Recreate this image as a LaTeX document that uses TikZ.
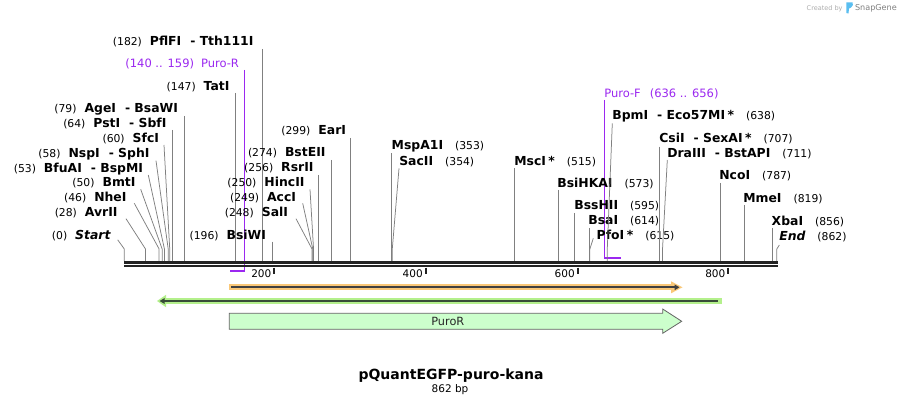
\documentclass[tikz,border=0pt]{standalone}
\usepackage{fontspec}
\setmainfont{DejaVu Sans}
\usetikzlibrary{arrows.meta}
\definecolor{leadgray}{RGB}{128,128,128}
\definecolor{primerpurple}{RGB}{155,40,240}
\definecolor{axisblack}{RGB}{34,34,34}
\definecolor{orangehalo}{RGB}{250,200,120}
\definecolor{greenhalo}{RGB}{180,240,140}
\definecolor{featdark}{RGB}{64,64,64}
\definecolor{greendark}{RGB}{56,76,56}
\definecolor{purofill}{RGB}{204,255,204}
\definecolor{puroborder}{RGB}{100,100,100}
\definecolor{sgblue}{RGB}{90,190,240}
\newcommand\enz[1]{{\fontsize{12.4}{14}\selectfont\bfseries #1}}
\newcommand\bpn[1]{{\fontsize{10.8}{13}\selectfont (#1)}}
\newcommand\gapl{\hspace{8pt}}
\newcommand\gapr{\hspace{12pt}}
\newcommand\sitex[1]{124.3+0.757*#1}
\newcommand\leadv[3]{%
  \coordinate (#1-s) at ({\sitex{#2}},#3);
  \coordinate (#1-a) at ({\sitex{#2}},261);
  \draw[leader] (#1-s) -- (#1-a);}
\newcommand\leadd[4]{%
  \coordinate (#1-s) at (#2,#3);
  \coordinate (#1-k) at ({\sitex{#4}},249);
  \coordinate (#1-a) at ({\sitex{#4}},261);
  \draw[leader] (#1-s) -- (#1-k) -- (#1-a);}
\tikzset{
  lbl/.style={inner sep=0pt, outer sep=0pt},
  rlab/.style={lbl, anchor=base east},
  llab/.style={lbl, anchor=base west},
  leader/.style={draw=leadgray, line width=0.75pt},
  primer/.style={draw=primerpurple, line width=1.6pt},
  ticklab/.style={lbl, anchor=base east, font=\fontsize{10.5}{12}\selectfont},
}
\begin{document}
\begin{tikzpicture}[x=1pt,y=-1pt]
\useasboundingbox (0,0) rectangle (902,406);
\fill[white] (0,0) rectangle (902,406);

% ---- primers (drawn under axis)
\node[lbl, anchor=base east, text=primerpurple, font=\fontsize{11.5}{13}\selectfont] (purorlab) at (239,67.7) {(140 .. 159)\hspace{7pt}Puro-R};
\coordinate (pr-top) at (244.3,70);
\coordinate (pr-bot) at (244.3,270.7);
\coordinate (pr-end) at (230,270.7);
\draw[primer] (pr-top) -- (pr-bot) -- (pr-end);

\node[lbl, anchor=base west, text=primerpurple, font=\fontsize{11.5}{13}\selectfont] (puroflab) at (604.3,97.3) {Puro-F\hspace{9pt}(636 .. 656)};
\coordinate (pf-top) at (604.3,100);
\coordinate (pf-bot) at (604.3,257.7);
\coordinate (pf-end) at (620.5,257.7);
\draw[primer] (pf-top) -- (pf-bot) -- (pf-end);

% ---- right-aligned labels (left part)
\node[rlab] (pflfi) at (253.5,46) {\bpn{182}\gapl\enz{PflFI\hspace{9pt}- Tth111I}};
\leadv{pflfi}{182}{49}
\node[rlab] (tati) at (229.5,91) {\bpn{147}\gapl\enz{TatI}};
\leadv{tati}{147}{93}
\node[rlab] (agei) at (178,112.7) {\bpn{79}\gapl\enz{AgeI\hspace{9pt}- BsaWI}};
\leadv{agei}{79}{116}
\node[rlab] (psti) at (166.5,127.7) {\bpn{64}\gapl\enz{PstI\hspace{9pt}- SbfI}};
\leadv{psti}{64}{130}
\node[rlab] (sfci) at (159,142.7) {\bpn{60}\gapl\enz{SfcI}};
\leadd{sfci}{164}{145}{60}
\node[rlab] (nspi) at (149.5,157.5) {\bpn{58}\gapl\enz{NspI\hspace{9pt}- SphI}};
\leadd{nspi}{156}{160.7}{58}
\node[rlab] (bfuai) at (143,172.3) {\bpn{53}\gapl\enz{BfuAI\hspace{9pt}- BspMI}};
\leadd{bfuai}{148.3}{175}{53}
\node[rlab] (bmti) at (135.5,187) {\bpn{50}\gapl\enz{BmtI}};
\leadd{bmti}{140.7}{189.3}{50}
\node[rlab] (nhei) at (126.5,201.7) {\bpn{46}\gapl\enz{NheI}};
\leadd{nhei}{134.3}{203.3}{46}
\node[rlab] (avrii) at (117.5,217) {\bpn{28}\gapl\enz{AvrII}};
\leadd{avrii}{126}{218.7}{28}
\node[rlab] (start) at (110.5,240) {\bpn{0}\gapl\enz{\itshape Start}};
\leadd{start}{117.7}{239.8}{0}

\node[rlab] (bsiwi) at (266,240) {\bpn{196}\gapl\enz{BsiWI}};
\leadv{bsiwi}{196}{241.7}
\node[rlab] (sali) at (288,216.7) {\bpn{248}\gapl\enz{SalI}};
\leadd{sali}{296}{218.7}{248}
\node[rlab] (acci) at (296,201.7) {\bpn{249}\gapl\enz{AccI}};
\leadd{acci}{302.7}{203.3}{249}
\node[rlab] (hincii) at (304.5,186.7) {\bpn{250}\gapl\enz{HincII}};
\leadd{hincii}{310}{189.3}{250}
\node[rlab] (rsrii) at (313.5,171.7) {\bpn{256}\gapl\enz{RsrII}};
\leadv{rsrii}{256}{175}
\node[rlab] (bsteii) at (325.5,156.7) {\bpn{274}\gapl\enz{BstEII}};
\leadv{bsteii}{274}{160}
\node[rlab] (eari) at (346,135) {\bpn{299}\gapl\enz{EarI}};
\leadv{eari}{299}{138}

% ---- left-aligned labels (right part)
\node[llab] (mspa1i) at (391.7,150) {\enz{MspA1I}\gapr\bpn{353}};
\leadv{mspa1i}{353}{153.3}
\node[llab] (sacii) at (399.3,165.7) {\enz{SacII}\gapr\bpn{354}};
\leadd{sacii}{399}{168.3}{354}
\node[llab] (msci) at (514.3,165.7) {\enz{MscI\hspace{2.5pt}*}\gapr\bpn{515}};
\leadv{msci}{515}{168.3}
\node[llab] (bsihkai) at (557.3,187.3) {\enz{BsiHKAI}\gapr\bpn{573}};
\leadv{bsihkai}{573}{190}
\node[llab] (bsshii) at (574.3,210) {\enz{BssHII}\gapr\bpn{595}};
\leadv{bsshii}{595}{213}
\node[llab] (bsai) at (588.3,225) {\enz{BsaI}\gapr\bpn{614}};
\leadv{bsai}{614}{228}
\node[llab] (pfoi) at (596.7,240) {\enz{PfoI\hspace{2.5pt}*}\gapr\bpn{615}};
\leadd{pfoi}{593.3}{238.3}{615}
\node[llab] (bpmi) at (612.3,120) {\enz{BpmI\hspace{9pt}- Eco57MI\hspace{2.5pt}*}\gapr\bpn{638}};
\leadd{bpmi}{612.3}{123.3}{638}
\node[llab] (csii) at (659.3,142.7) {\enz{CsiI\hspace{9pt}- SexAI\hspace{2.5pt}*}\gapr\bpn{707}};
\leadv{csii}{707}{146.7}
\node[llab] (draiii) at (667.3,157.3) {\enz{DraIII\hspace{9pt}- BstAPI}\gapr\bpn{711}};
\leadd{draiii}{667.3}{160}{711}
\node[llab] (ncoi) at (719.3,180) {\enz{NcoI}\gapr\bpn{787}};
\leadv{ncoi}{787}{183}
\node[llab] (mmei) at (743.3,202.7) {\enz{MmeI}\gapr\bpn{819}};
\leadv{mmei}{819}{205}
\node[llab] (xbai) at (771.7,225.7) {\enz{XbaI}\gapr\bpn{856}};
\leadv{xbai}{856}{228}
\node[llab] (endl) at (779.3,240.7) {\enz{\itshape End}\gapr\bpn{862}};
\leadd{endl}{779.3}{245}{862}

% ---- axis (two strands)
\coordinate (ax1a) at (124,262.5); \coordinate (ax1b) at (777.7,262.5);
\coordinate (ax2a) at (124,266.2); \coordinate (ax2b) at (777.7,266.2);
\draw[axisblack, line width=3pt] (ax1a) -- (ax1b);
\draw[axisblack, line width=2pt] (ax2a) -- (ax2b);

% ---- ticks
\foreach \t/\xx in {200/274.3, 400/425.7, 600/577.7, 800/728.3}{
  \draw[axisblack, line width=1.8pt] (\xx,267.5) -- (\xx,274.3);
  \node[ticklab] (tick\t) at (\xx-3,277) {\t};
}

% ---- orange feature (forward)
\fill[orangehalo] (229,284.3) rectangle (673,290.3);
\fill[orangehalo] (671,281.3) -- (682.5,287.3) -- (671,293.3) -- cycle;
\coordinate (oa) at (231,287.3); \coordinate (ob) at (679.5,287.3);
\draw[featdark, line width=2pt, -{Triangle[length=5pt,width=5.5pt]}] (oa) -- (ob);

% ---- green feature (reverse)
\fill[greenhalo] (163,298) rectangle (722,304);
\fill[greenhalo] (166,294.8) -- (157,301) -- (166,307.2) -- cycle;
\coordinate (ga) at (717.5,301); \coordinate (gb) at (159.5,301);
\draw[greendark, line width=2pt, -{Triangle[length=5pt,width=5.5pt]}] (ga) -- (gb);

% ---- PuroR feature arrow
\draw[fill=purofill, draw=puroborder, line width=0.8pt]
  (229.3,313.3) -- (662.7,313.3) -- (662.7,309) -- (681.7,321.3) -- (662.7,333.3)
  -- (662.7,329.3) -- (229.3,329.3) -- cycle;
\node[lbl, font=\fontsize{11.3}{13}\selectfont, text=black!85] (puror) at (447.8,321.3) {PuroR};

% ---- title
\node[lbl, anchor=base, font=\fontsize{14}{16}\selectfont\bfseries] (title) at (451,379.3) {pQuantEGFP-puro-kana};
\node[lbl, anchor=base, font=\fontsize{10.5}{12}\selectfont] (size) at (450,392.7) {862 bp};

% ---- watermark
\node[lbl, anchor=base east, text=black!32, font=\fontsize{6.5}{8}\selectfont] (createdby) at (842.5,10.5) {Created by};
\fill[sgblue] (846.3,2.5) -- (852.5,2.5) .. controls (853.5,3.5) and (853,6.5) .. (851,7.5) -- (849,8.5) -- (848.5,13.5) -- (846.3,13) -- cycle;
\node[lbl, anchor=base west, text=black!50, font=\fontsize{8.1}{10}\selectfont] (snapgene) at (855,11) {SnapGene};
\end{tikzpicture}
\end{document}
